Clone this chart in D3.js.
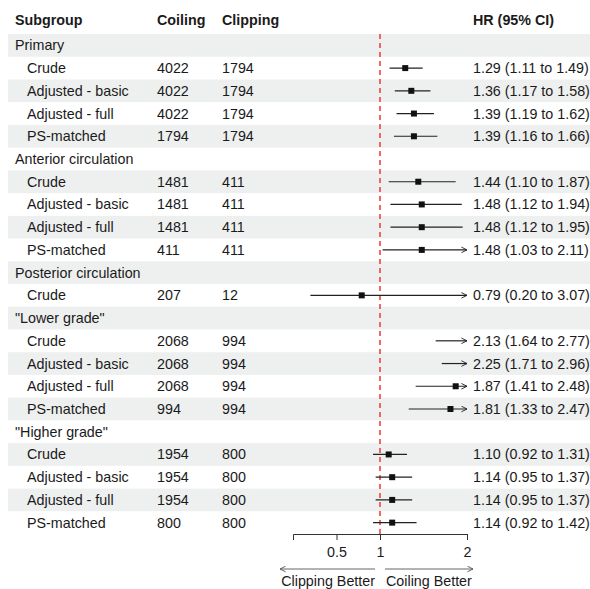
<!DOCTYPE html>
<html>
<head>
<meta charset="utf-8">
<script src="https://cdn.jsdelivr.net/npm/d3@7"></script>
<style>
  body { margin: 0; background: #fff; }
  text { font-family: "Liberation Sans", Arial, sans-serif; }
</style>
</head>
<body>
<svg id="chart" width="590" height="589"></svg>
<script>
// table rows, group rows have no counts / estimates
const labels = ["Primary", "Crude", "Adjusted - basic", "Adjusted - full", "PS-matched",
  "Anterior circulation", "Crude", "Adjusted - basic", "Adjusted - full", "PS-matched",
  "Posterior circulation", "Crude",
  "\"Lower grade\"", "Crude", "Adjusted - basic", "Adjusted - full", "PS-matched",
  "\"Higher grade\"", "Crude", "Adjusted - basic", "Adjusted - full", "PS-matched"];
const coiling = [null, 4022, 4022, 4022, 1794, null, 1481, 1481, 1481, 411, null, 207,
  null, 2068, 2068, 2068, 994, null, 1954, 1954, 1954, 800];
const clipping = [null, 1794, 1794, 1794, 1794, null, 411, 411, 411, 411, null, 12,
  null, 994, 994, 994, 994, null, 800, 800, 800, 800];
const hr = [null, 1.29, 1.36, 1.39, 1.39, null, 1.44, 1.48, 1.48, 1.48, null, 0.79,
  null, 2.13, 2.25, 1.87, 1.81, null, 1.10, 1.14, 1.14, 1.14];
const lower = [null, 1.11, 1.17, 1.19, 1.16, null, 1.10, 1.12, 1.12, 1.03, null, 0.20,
  null, 1.64, 1.71, 1.41, 1.33, null, 0.92, 0.95, 0.95, 0.92];
const upper = [null, 1.49, 1.58, 1.62, 1.66, null, 1.87, 1.94, 1.95, 2.11, null, 3.07,
  null, 2.77, 2.96, 2.48, 2.47, null, 1.31, 1.37, 1.37, 1.42];
const xTicks = [0.5, 1, 2];

const svg = d3.select("#chart");
const fontSize = 14.3;

const rows = labels.map((label, i) => ({
  i, label, isGroup: hr[i] === null,
  coiling: coiling[i], clipping: clipping[i],
  hr: hr[i], lo: lower[i], hi: upper[i]
}));

// layout
const colSub = 15, colCoil = 157, colClip = 222, colHr = 473;
const y = d3.scaleBand().domain(rows.map(d => d.i)).range([34, 534]);
const x = d3.scaleLinear().domain([0, 2]).range([293, 467]);
const yc = i => y(i) + y.bandwidth() / 2;

// arrowhead marker
const defs = svg.append("defs");
function marker(id, colour) {
  defs.append("marker")
    .attr("id", id)
    .attr("viewBox", "0 0 10 10")
    .attr("refX", 9).attr("refY", 5)
    .attr("markerWidth", 7).attr("markerHeight", 7)
    .attr("markerUnits", "userSpaceOnUse")
    .attr("orient", "auto-start-reverse")
    .append("path")
    .attr("d", "M1,1 L9,5 L1,9")
    .attr("fill", "none")
    .attr("stroke", colour)
    .attr("stroke-width", 1.3);
}
marker("arr", "#222");
marker("arrGrey", "#555");

// stripes
svg.append("g").selectAll("rect")
  .data(rows.filter(d => d.i % 2 === 0))
  .join("rect")
  .attr("x", 8)
  .attr("y", d => y(d.i))
  .attr("width", 590 - 8)
  .attr("height", y.bandwidth())
  .attr("fill", "#eef0f0");

// header
const header = svg.append("g")
  .attr("font-weight", "bold")
  .attr("font-size", fontSize)
  .attr("fill", "#1a1a1a");
[["Subgroup", colSub], ["Coiling", colCoil], ["Clipping", colClip], ["HR (95% CI)", colHr]]
  .forEach(([t, px]) => {
    header.append("text").attr("x", px).attr("y", 20).attr("dy", "0.35em").text(t);
  });

// table text
const body = svg.append("g").attr("font-size", fontSize).attr("fill", "#1a1a1a");
const rowG = body.selectAll("g").data(rows).join("g")
  .attr("transform", d => `translate(0,${yc(d.i)})`);
rowG.append("text")
  .attr("x", d => d.isGroup ? colSub : colSub + 12)
  .attr("dy", "0.35em")
  .text(d => d.label);
rowG.filter(d => !d.isGroup).append("text")
  .attr("x", colCoil).attr("dy", "0.35em").text(d => d.coiling);
rowG.filter(d => !d.isGroup).append("text")
  .attr("x", colClip).attr("dy", "0.35em").text(d => d.clipping);
rowG.filter(d => !d.isGroup).append("text")
  .attr("x", colHr).attr("dy", "0.35em")
  .text(d => `${d.hr.toFixed(2)} (${d.lo.toFixed(2)} to ${d.hi.toFixed(2)})`);

// reference line
svg.append("line")
  .attr("x1", x(1)).attr("x2", x(1))
  .attr("y1", y.range()[0]).attr("y2", y.range()[1])
  .attr("stroke", "#ee3b30")
  .attr("stroke-width", 1.5)
  .attr("stroke-dasharray", "5,4");

// CIs and points
const [xmin, xmax] = x.domain();
const ci = svg.append("g");
const est = rows.filter(d => !d.isGroup);
ci.selectAll("line").data(est).join("line")
  .attr("x1", d => x(Math.max(d.lo, xmin)))
  .attr("x2", d => x(Math.min(d.hi, xmax)))
  .attr("y1", d => yc(d.i)).attr("y2", d => yc(d.i))
  .attr("stroke", "#222")
  .attr("stroke-width", 1.2)
  .attr("marker-end", d => d.hi > xmax ? "url(#arr)" : null)
  .attr("marker-start", d => d.lo < xmin ? "url(#arr)" : null);
const sq = 6;
ci.selectAll("rect").data(est.filter(d => d.hr <= xmax && d.hr >= xmin)).join("rect")
  .attr("x", d => x(d.hr) - sq / 2)
  .attr("y", d => yc(d.i) - sq / 2)
  .attr("width", sq).attr("height", sq)
  .attr("fill", "#111");

// x axis
const axisY = y.range()[1];
svg.append("g")
  .attr("transform", `translate(0,${axisY})`)
  .call(d3.axisBottom(x).tickValues(xTicks).tickFormat(d3.format("")).tickSizeOuter(0).tickSize(6))
  .call(g => g.selectAll("path, line").attr("stroke", "#333"))
  .call(g => g.selectAll("text")
    .attr("font-family", "'Liberation Sans', Arial, sans-serif")
    .attr("font-size", fontSize)
    .attr("fill", "#1a1a1a")
    .attr("dy", "1.0em"));

// direction arrows
const arrY = 569;
const dir = svg.append("g");
dir.append("line")
  .attr("x1", x(1) - 5).attr("x2", 280)
  .attr("y1", arrY).attr("y2", arrY)
  .attr("stroke", "#555").attr("stroke-width", 0.9)
  .attr("marker-end", "url(#arrGrey)");
dir.append("line")
  .attr("x1", x(1) + 5).attr("x2", 473)
  .attr("y1", arrY).attr("y2", arrY)
  .attr("stroke", "#555").attr("stroke-width", 0.9)
  .attr("marker-end", "url(#arrGrey)");
dir.append("text")
  .attr("x", x(1) - 5).attr("y", 581).attr("dy", "0.35em")
  .attr("text-anchor", "end")
  .attr("font-size", fontSize).attr("fill", "#1a1a1a")
  .text("Clipping Better");
dir.append("text")
  .attr("x", x(1) + 6).attr("y", 581).attr("dy", "0.35em")
  .attr("font-size", fontSize).attr("fill", "#1a1a1a")
  .text("Coiling Better");
</script>
</body>
</html>
